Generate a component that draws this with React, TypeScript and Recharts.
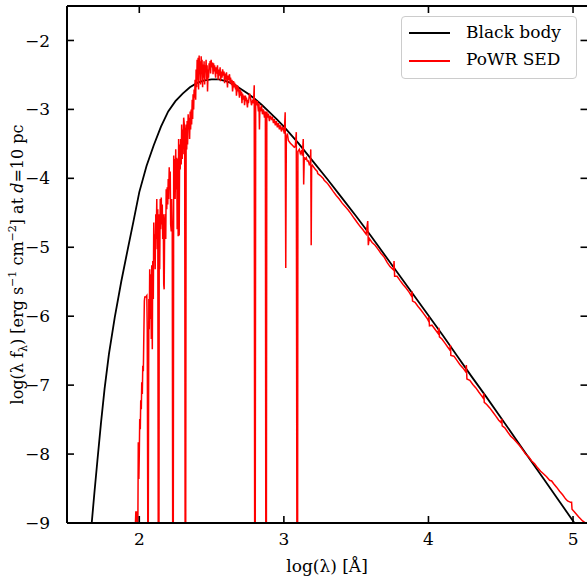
import React from "react";
import { LineChart, Line, XAxis, YAxis } from "recharts";

const FONT = "'DejaVu Serif', serif";

// axis ticks
const xTicks = [2, 3, 4, 5];
const yTicks = [-9, -8, -7, -6, -5, -4, -3, -2];

// black body curve: log(lambda) and log(lambda f_lambda)
const bbLogLam = [
  1.671, 1.69, 1.71, 1.735, 1.76, 1.79, 1.83, 1.875, 1.92, 1.96, 2.0, 2.05, 2.1, 2.15, 2.2,
  2.25, 2.3, 2.35, 2.4, 2.45, 2.5, 2.55, 2.6, 2.65, 2.7, 2.75, 2.8, 2.85, 2.9, 2.95, 3.0,
  3.1, 3.2, 3.3, 3.4, 3.5, 3.6, 3.7, 3.8, 3.9, 4.0, 4.1, 4.2, 4.3, 4.4, 4.5, 4.6, 4.7, 4.8,
  4.9, 5.0, 5.02,
];
const bbFlux = [
  -9.0, -8.55, -8.1, -7.55, -7.05, -6.55, -6.02, -5.5, -5.03, -4.62, -4.2, -3.82, -3.52,
  -3.25, -3.03, -2.88, -2.77, -2.68, -2.615, -2.58, -2.565, -2.565, -2.59, -2.63, -2.7,
  -2.77, -2.85, -2.94, -3.04, -3.14, -3.25, -3.49, -3.75, -4.01, -4.28, -4.55, -4.83, -5.12,
  -5.41, -5.7, -5.99, -6.28, -6.58, -6.88, -7.17, -7.47, -7.77, -8.07, -8.37, -8.67, -8.97,
  -9.03,
];

// PoWR model SED (noisy, with absorption lines)
const sedLogLam = [
  1.972, 1.976, 1.983, 1.986, 1.99, 1.993, 1.997, 2.0, 2.003, 2.007, 2.01, 2.014, 2.017,
  2.021, 2.024, 2.028, 2.031, 2.035, 2.038, 2.045, 2.052, 2.055, 2.059, 2.062, 2.066, 2.069,
  2.072, 2.076, 2.079, 2.083, 2.086, 2.09, 2.093, 2.097, 2.1, 2.104, 2.107, 2.11, 2.114,
  2.117, 2.121, 2.124, 2.128, 2.131, 2.136, 2.138, 2.141, 2.145, 2.148, 2.152, 2.155, 2.159,
  2.162, 2.166, 2.169, 2.172, 2.176, 2.179, 2.183, 2.186, 2.19, 2.193, 2.197, 2.2, 2.203,
  2.207, 2.21, 2.214, 2.217, 2.221, 2.224, 2.228, 2.231, 2.235, 2.238, 2.241, 2.245, 2.248,
  2.252, 2.255, 2.259, 2.262, 2.266, 2.269, 2.272, 2.276, 2.279, 2.283, 2.286, 2.29, 2.293,
  2.297, 2.3, 2.303, 2.307, 2.314, 2.317, 2.321, 2.324, 2.328, 2.331, 2.334, 2.338, 2.341,
  2.345, 2.348, 2.352, 2.355, 2.359, 2.362, 2.366, 2.369, 2.372, 2.376, 2.379, 2.383, 2.386,
  2.39, 2.393, 2.397, 2.4, 2.403, 2.407, 2.41, 2.414, 2.417, 2.421, 2.424, 2.428, 2.431,
  2.434, 2.438, 2.441, 2.445, 2.448, 2.452, 2.455, 2.459, 2.462, 2.466, 2.469, 2.472, 2.476,
  2.479, 2.483, 2.486, 2.49, 2.493, 2.497, 2.5, 2.507, 2.51, 2.514, 2.517, 2.521, 2.528,
  2.531, 2.534, 2.541, 2.545, 2.548, 2.555, 2.559, 2.562, 2.569, 2.572, 2.576, 2.583, 2.586,
  2.59, 2.597, 2.6, 2.603, 2.61, 2.614, 2.617, 2.624, 2.628, 2.631, 2.638, 2.641, 2.645,
  2.652, 2.655, 2.659, 2.666, 2.669, 2.672, 2.679, 2.683, 2.686, 2.693, 2.697, 2.7, 2.707,
  2.71, 2.714, 2.721, 2.724, 2.728, 2.734, 2.738, 2.741, 2.748, 2.752, 2.755, 2.762, 2.769,
  2.776, 2.783, 2.79, 2.795, 2.798, 2.802, 2.805, 2.81, 2.817, 2.824, 2.828, 2.831, 2.834,
  2.838, 2.845, 2.852, 2.859, 2.866, 2.872, 2.875, 2.879, 2.882, 2.886, 2.893, 2.9, 2.907,
  2.914, 2.921, 2.928, 2.934, 2.941, 2.948, 2.955, 2.962, 2.969, 2.976, 2.983, 2.99, 2.997,
  3.003, 3.009, 3.013, 3.017, 3.024, 3.031, 3.045, 3.059, 3.072, 3.079, 3.086, 3.09, 3.095,
  3.097, 3.107, 3.114, 3.121, 3.128, 3.134, 3.137, 3.141, 3.148, 3.155, 3.162, 3.169, 3.176,
  3.183, 3.186, 3.189, 3.192, 3.197, 3.217, 3.231, 3.234, 3.252, 3.272, 3.279, 3.3, 3.321,
  3.341, 3.362, 3.383, 3.403, 3.424, 3.445, 3.466, 3.486, 3.507, 3.528, 3.548, 3.569, 3.58,
  3.584, 3.59, 3.61, 3.631, 3.652, 3.672, 3.693, 3.714, 3.734, 3.759, 3.762, 3.766, 3.783,
  3.803, 3.824, 3.845, 3.866, 3.883, 3.886, 3.89, 3.907, 3.928, 3.948, 3.969, 3.99, 4.0,
  4.003, 4.007, 4.024, 4.045, 4.066, 4.072, 4.076, 4.093, 4.114, 4.134, 4.148, 4.152, 4.155,
  4.176, 4.197, 4.217, 4.238, 4.259, 4.262, 4.266, 4.286, 4.307, 4.328, 4.348, 4.369, 4.379,
  4.383, 4.386, 4.403, 4.424, 4.445, 4.466, 4.486, 4.5, 4.507, 4.51, 4.528, 4.548, 4.569,
  4.59, 4.61, 4.631, 4.652, 4.672, 4.693, 4.714, 4.734, 4.755, 4.776, 4.797, 4.817, 4.838,
  4.852, 4.866, 4.886, 4.907, 4.928, 4.948, 4.962, 4.983, 4.99, 4.993, 5.01, 5.038, 5.066,
  5.107,
];
const sedFlux = [
  -9.09, -8.84, -8.84, -9.09, -9.09, -7.83, -8.36, -8.0, -7.49, -7.64, -7.22, -7.35, -6.96,
  -7.13, -6.72, -6.8, -6.33, -5.78, -5.72, -5.72, -5.7, -6.19, -9.23, -9.23, -5.75, -6.19,
  -5.32, -6.04, -5.39, -6.33, -5.26, -6.48, -5.2, -5.75, -4.64, -5.17, -4.81, -5.32, -4.52,
  -4.88, -4.3, -5.03, -4.45, -9.23, -9.23, -4.52, -5.32, -4.3, -4.74, -4.28, -4.67, -4.38,
  -4.88, -4.52, -5.54, -5.61, -4.59, -4.52, -4.88, -4.16, -4.45, -4.13, -4.38, -4.01, -4.3,
  -3.84, -4.16, -3.9, -4.67, -4.77, -4.3, -4.74, -9.23, -9.23, -3.67, -4.01, -3.72, -4.3,
  -3.58, -4.16, -3.7, -4.74, -3.72, -4.84, -3.43, -4.83, -3.51, -3.87, -3.43, -3.8, -3.22,
  -3.72, -3.29, -3.65, -3.12, -3.29, -9.23, -9.23, -3.22, -3.58, -3.17, -3.51, -3.07, -3.26,
  -3.12, -3.43, -3.03, -3.29, -3.0, -3.22, -2.86, -3.14, -2.78, -3.0, -2.71, -2.83, -2.57,
  -2.86, -2.42, -2.68, -2.28, -2.57, -2.25, -2.71, -2.22, -2.49, -2.3, -2.64, -2.23, -2.42,
  -2.28, -2.68, -2.35, -2.54, -2.3, -2.64, -2.36, -2.46, -2.28, -2.57, -2.36, -2.74, -2.42,
  -2.54, -2.33, -2.42, -2.3, -2.48, -2.28, -2.39, -2.32, -2.49, -2.33, -2.45, -2.36, -2.54,
  -2.39, -2.48, -2.36, -2.57, -2.42, -2.51, -2.39, -2.59, -2.45, -2.54, -2.42, -2.51, -2.45,
  -2.62, -2.48, -2.57, -2.46, -2.68, -2.51, -2.57, -2.49, -2.62, -2.54, -2.65, -2.57, -2.74,
  -2.59, -2.68, -2.61, -2.71, -2.64, -2.8, -2.65, -2.74, -2.68, -2.83, -2.71, -2.8, -2.74,
  -2.91, -2.77, -2.86, -2.8, -2.94, -2.8, -2.88, -2.83, -2.97, -2.86, -2.91, -2.77, -2.83,
  -2.94, -2.86, -2.91, -2.65, -9.23, -9.23, -2.86, -2.94, -2.88, -3.03, -2.91, -3.29, -2.97,
  -3.03, -2.94, -3.07, -3.0, -3.12, -3.03, -9.23, -9.23, -3.03, -3.12, -3.06, -3.17, -3.09,
  -3.14, -3.12, -3.2, -3.14, -3.23, -3.17, -3.26, -3.2, -3.29, -3.23, -3.32, -3.26, -3.29,
  -3.35, -3.04, -5.3, -3.41, -3.35, -3.45, -3.49, -3.52, -3.55, -3.54, -3.33, -9.23, -9.23,
  -3.61, -3.58, -3.64, -3.61, -3.67, -3.43, -4.09, -3.7, -3.72, -3.7, -3.75, -3.75, -3.8,
  -3.78, -3.58, -4.97, -3.83, -3.81, -3.87, -3.9, -3.93, -3.96, -4.0, -4.03, -4.07, -4.13,
  -4.19, -4.25, -4.3, -4.36, -4.41, -4.46, -4.52, -4.58, -4.64, -4.7, -4.75, -4.81, -4.62,
  -4.97, -4.87, -4.93, -4.97, -5.03, -5.09, -5.14, -5.22, -5.28, -5.33, -5.2, -5.42, -5.42,
  -5.48, -5.54, -5.59, -5.65, -5.71, -5.64, -5.78, -5.8, -5.86, -5.91, -5.97, -6.03, -6.07,
  -6.01, -6.14, -6.13, -6.19, -6.25, -6.17, -6.3, -6.33, -6.39, -6.45, -6.49, -6.42, -6.57,
  -6.58, -6.64, -6.7, -6.75, -6.81, -6.71, -6.91, -6.93, -6.99, -7.04, -7.1, -7.16, -7.19,
  -7.12, -7.25, -7.28, -7.33, -7.39, -7.45, -7.51, -7.54, -7.49, -7.59, -7.62, -7.68, -7.74,
  -7.78, -7.83, -7.88, -7.94, -8.0, -8.04, -8.1, -8.14, -8.2, -8.25, -8.29, -8.33, -8.38,
  -8.39, -8.43, -8.48, -8.54, -8.59, -8.65, -8.68, -8.7, -8.7, -8.8, -8.84, -8.91, -8.97,
  -9.03,
];

const bbData = bbLogLam.map((x, i) => ({ x, y: bbFlux[i] }));
const sedData = sedLogLam.map((x, i) => ({ x, y: sedFlux[i] }));

const fmtTick = (v: number) => (v < 0 ? `\u2212${Math.abs(v)}` : `${v}`);

const TICK_LEN = 7;
const TICK_W = 1.6;

// ticks point inward, like matplotlib's direction="in"
const BottomTick = (props: any) => {
  const { x, y, payload } = props;
  return (
    <g>
      <line x1={x} x2={x} y1={y} y2={y - TICK_LEN} stroke="#000" strokeWidth={TICK_W} />
      <text x={x} y={y + 10} dy="0.71em" textAnchor="middle" fontFamily={FONT} fontSize={17} fill="#000">
        {fmtTick(payload.value)}
      </text>
    </g>
  );
};

const TopTick = (props: any) => {
  const { x, y } = props;
  return <line x1={x} x2={x} y1={y} y2={y + TICK_LEN} stroke="#000" strokeWidth={TICK_W} />;
};

const LeftTick = (props: any) => {
  const { x, y, payload } = props;
  return (
    <g>
      <line x1={x} x2={x + TICK_LEN} y1={y} y2={y} stroke="#000" strokeWidth={TICK_W} />
      <text x={x - 17} y={y} dy="0.355em" textAnchor="end" fontFamily={FONT} fontSize={17} fill="#000">
        {fmtTick(payload.value)}
      </text>
    </g>
  );
};

const RightTick = (props: any) => {
  const { x, y } = props;
  return <line x1={x} x2={x - TICK_LEN} y1={y} y2={y} stroke="#000" strokeWidth={TICK_W} />;
};

const YLabel = () => (
  <text
    transform="translate(23,264.5) rotate(-90)"
    textAnchor="middle"
    fontFamily={FONT}
    fontSize={16}
    fill="#000"
  >
    <tspan>log(λ f</tspan>
    <tspan dy={4} fontSize={11}>λ</tspan>
    <tspan dy={-4}>) [erg s</tspan>
    <tspan dy={-7} fontSize={11}>−1</tspan>
    <tspan dy={7}> cm</tspan>
    <tspan dy={-7} fontSize={11}>−2</tspan>
    <tspan dy={7}>] at </tspan>
    <tspan fontStyle="italic">d</tspan>
    <tspan>=10 pc</tspan>
  </text>
);

const XLabel = () => (
  <text x={327} y={572} textAnchor="middle" fontFamily={FONT} fontSize={17} fill="#000">
    log(λ) [Å]
  </text>
);

const spine = { stroke: "#000", strokeWidth: 2 };

export default function App() {
  return (
    <div
      style={{
        position: "absolute",
        left: 0,
        top: 0,
        width: 587,
        height: 579,
        overflow: "hidden",
        background: "#fff",
      }}
    >
      <LineChart width={600} height={579} margin={{ top: 5, right: 0, bottom: 0, left: 0 }}>
        <XAxis
          dataKey="x"
          type="number"
          domain={[1.5, 5.1]}
          ticks={xTicks}
          interval={0}
          allowDataOverflow
          height={56}
          tickSize={0}
          tickMargin={0}
          axisLine={spine}
          tickLine={false}
          tick={<BottomTick />}
          label={<XLabel />}
        />
        <XAxis
          xAxisId="top"
          orientation="top"
          dataKey="x"
          type="number"
          domain={[1.5, 5.1]}
          ticks={xTicks}
          interval={0}
          allowDataOverflow
          height={1}
          tickSize={0}
          tickMargin={0}
          axisLine={spine}
          tickLine={false}
          tick={<TopTick />}
        />
        <YAxis
          type="number"
          domain={[-9, -1.5]}
          ticks={yTicks}
          interval={0}
          allowDataOverflow
          width={67}
          tickSize={0}
          tickMargin={0}
          axisLine={spine}
          tickLine={false}
          tick={<LeftTick />}
          label={<YLabel />}
        />
        <YAxis
          yAxisId="right"
          orientation="right"
          type="number"
          domain={[-9, -1.5]}
          ticks={yTicks}
          interval={0}
          allowDataOverflow
          width={12.5}
          tickSize={0}
          tickMargin={0}
          axisLine={false}
          tickLine={false}
          tick={<RightTick />}
        />
        <Line
          data={bbData}
          dataKey="y"
          name="Black body"
          type="linear"
          stroke="#000"
          strokeWidth={1.8}
          dot={false}
          activeDot={false}
          isAnimationActive={false}
        />
        <Line
          data={sedData}
          dataKey="y"
          name="PoWR SED"
          type="linear"
          stroke="#ff0000"
          strokeWidth={1.5}
          dot={false}
          activeDot={false}
          isAnimationActive={false}
        />
      </LineChart>

      {/* legend box, upper right */}
      <div
        style={{
          position: "absolute",
          left: 401,
          top: 16,
          width: 174,
          height: 61,
          border: "1px solid #cccccc",
          borderRadius: 4,
          background: "rgba(255,255,255,0.8)",
          fontFamily: FONT,
          fontSize: 17,
          lineHeight: "17px",
          color: "#000",
        }}
      >
        <div style={{ position: "absolute", left: 7, top: 15, width: 41, height: 2, background: "#000" }} />
        <div style={{ position: "absolute", left: 64, top: 7, whiteSpace: "nowrap" }}>Black body</div>
        <div style={{ position: "absolute", left: 7, top: 43, width: 41, height: 2, background: "#ff0000" }} />
        <div style={{ position: "absolute", left: 64, top: 34, whiteSpace: "nowrap" }}>PoWR SED</div>
      </div>
    </div>
  );
}
